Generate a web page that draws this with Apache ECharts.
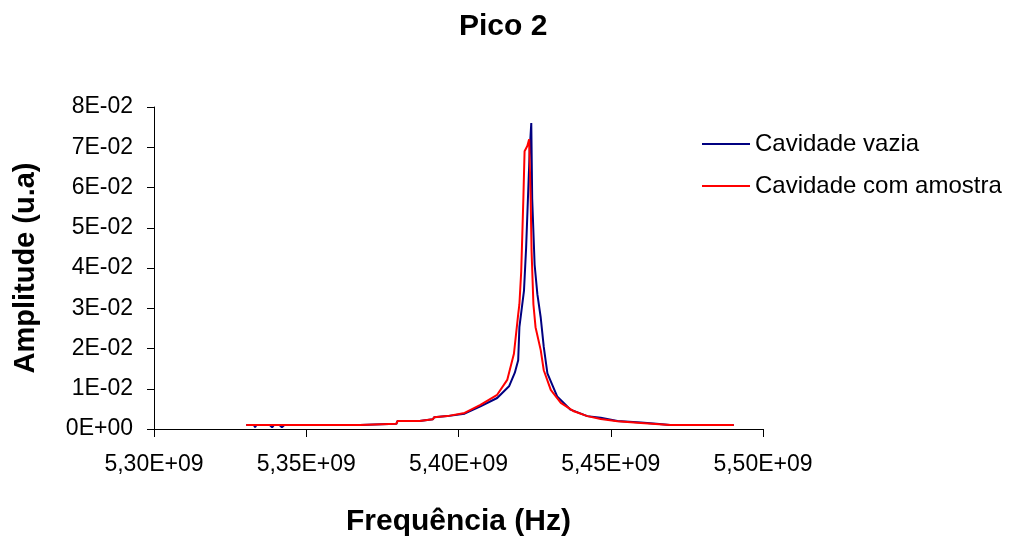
<!DOCTYPE html>
<html>
<head>
<meta charset="utf-8">
<title>Pico 2</title>
<script src="https://cdn.jsdelivr.net/npm/echarts@6/dist/echarts.min.js"></script>
<style>
html, body { margin: 0; padding: 0; background: #fff; }
#chart { width: 1022px; height: 542px; }
</style>
</head>
<body>
<div id="chart"></div>
<script>
// frequencia (Hz) e amplitude (u.a)
var vaziaFreq = [5.3303e9, 5.3328e9, 5.3332e9, 5.3336e9, 5.3380e9, 5.3388e9, 5.3394e9, 5.3412e9, 5.3420e9, 5.3428e9,
	5.3676e9, 5.3680e9, 5.3796e9, 5.3800e9, 5.3872e9, 5.3876e9, 5.3916e9, 5.3920e9, 5.3963e9, 5.4020e9,
	5.4072e9, 5.4127e9, 5.4166e9, 5.4185e9, 5.4196e9, 5.4200e9, 5.4215e9, 5.4222e9, 5.4228e9, 5.4234e9,
	5.4239e9, 5.4242e9, 5.4250e9, 5.4259e9, 5.4270e9, 5.4280e9, 5.4292e9, 5.4324e9, 5.4368e9, 5.4423e9,
	5.4467e9, 5.4522e9, 5.4599e9, 5.4650e9, 5.4695e9, 5.4700e9, 5.4705e9, 5.4904e9];
var vaziaAmp = [0.0010, 0.0010, 0.0004, 0.0010, 0.0010, 0.0004, 0.0010, 0.0010, 0.0004, 0.0010,
	0.0010, 0.0013, 0.0013, 0.0020, 0.0020, 0.0024, 0.0024, 0.0029, 0.0032, 0.0038,
	0.0056, 0.0077, 0.0106, 0.0140, 0.0171, 0.0253, 0.0343, 0.0449, 0.0572, 0.0694,
	0.0760, 0.0572, 0.0408, 0.0335, 0.0277, 0.0204, 0.0138, 0.0081, 0.0048, 0.0032,
	0.0028, 0.0020, 0.0016, 0.0013, 0.0010, 0.0007, 0.0010, 0.0010];

var amostraFreq = [5.3303e9, 5.3676e9, 5.3680e9, 5.3796e9, 5.3800e9, 5.3872e9, 5.3876e9, 5.3916e9, 5.3920e9, 5.3963e9,
	5.4020e9, 5.4072e9, 5.4127e9, 5.4160e9, 5.4182e9, 5.4196e9, 5.4200e9, 5.4206e9, 5.4213e9, 5.4217e9,
	5.4226e9, 5.4232e9, 5.4237e9, 5.4240e9, 5.4246e9, 5.4253e9, 5.4270e9, 5.4280e9, 5.4303e9, 5.4336e9,
	5.4379e9, 5.4423e9, 5.4467e9, 5.4522e9, 5.4599e9, 5.4695e9, 5.4904e9];
var amostraAmp = [0.0010, 0.0010, 0.0013, 0.0013, 0.0020, 0.0020, 0.0024, 0.0024, 0.0029, 0.0032,
	0.0040, 0.0060, 0.0085, 0.0122, 0.0187, 0.0285, 0.0310, 0.0392, 0.0572, 0.0690,
	0.0703, 0.0720, 0.0572, 0.0441, 0.0310, 0.0253, 0.0196, 0.0146, 0.0097, 0.0065,
	0.0044, 0.0032, 0.0025, 0.0019, 0.0015, 0.0010, 0.0010];

var seriesNames = ['Cavidade vazia', 'Cavidade com amostra'];

function pares(xs, ys) {
	var out = [];
	for (var i = 0; i < xs.length; i++) {
		out.push([xs[i], ys[i]]);
	}
	return out;
}

var fonte = "'Liberation Sans', Arial, sans-serif";
var myChart = echarts.init(document.getElementById('chart'));
var option = {
	animation: false,
	backgroundColor: '#fff',
	title: {
		text: 'Pico 2',
		left: 459,
		top: 12,
		padding: [0, 0, 0, 0],
		textStyle: { fontFamily: fonte, fontSize: 30, fontWeight: 'bold', color: '#000' }
	},
	legend: {
		orient: 'vertical',
		left: 697,
		top: 126,
		itemWidth: 48,
		itemHeight: 2,
		itemGap: 16,
		icon: 'rect',
		textStyle: { fontFamily: fonte, fontSize: 24, lineHeight: 26, color: '#000' },
		data: seriesNames
	},
	grid: { left: 154, right: 259, top: 107, bottom: 109 },
	xAxis: {
		type: 'value',
		min: 5.30e9,
		max: 5.50e9,
		interval: 0.05e9,
		name: 'Frequência (Hz)',
		nameLocation: 'middle',
		nameGap: 78,
		nameTextStyle: { fontFamily: fonte, fontSize: 30, fontWeight: 'bold', color: '#000' },
		axisLine: { lineStyle: { color: '#000', width: 1 } },
		axisTick: { show: true, length: 8, inside: false, lineStyle: { color: '#000' } },
		axisLabel: {
			margin: 24,
			fontFamily: fonte,
			fontSize: 23,
			color: '#000',
			formatter: function (v) {
				return (v / 1e9).toFixed(2).replace('.', ',') + 'E+09';
			}
		},
		splitLine: { show: false }
	},
	yAxis: {
		type: 'value',
		min: 0,
		max: 0.08,
		interval: 0.01,
		name: 'Amplitude (u.a)',
		nameLocation: 'middle',
		nameGap: 114,
		nameTextStyle: { fontFamily: fonte, fontSize: 29, fontWeight: 'bold', color: '#000' },
		axisLine: { show: true, lineStyle: { color: '#000', width: 1 } },
		axisTick: { show: true, length: 7, inside: false, lineStyle: { color: '#000' } },
		axisLabel: {
			margin: 21,
			fontFamily: fonte,
			fontSize: 23,
			color: '#000',
			formatter: function (v) {
				var n = Math.round(v * 100);
				return n === 0 ? '0E+00' : n + 'E-02';
			}
		},
		splitLine: { show: false }
	},
	series: [
		{
			name: seriesNames[0],
			type: 'line',
			symbol: 'none',
			showSymbol: false,
			color: '#000080',
			lineStyle: { color: '#000080', width: 2 },
			data: pares(vaziaFreq, vaziaAmp)
		},
		{
			name: seriesNames[1],
			type: 'line',
			symbol: 'none',
			showSymbol: false,
			color: '#ff0000',
			lineStyle: { color: '#ff0000', width: 2 },
			data: pares(amostraFreq, amostraAmp)
		}
	]
};
myChart.setOption(option);
</script>
</body>
</html>
